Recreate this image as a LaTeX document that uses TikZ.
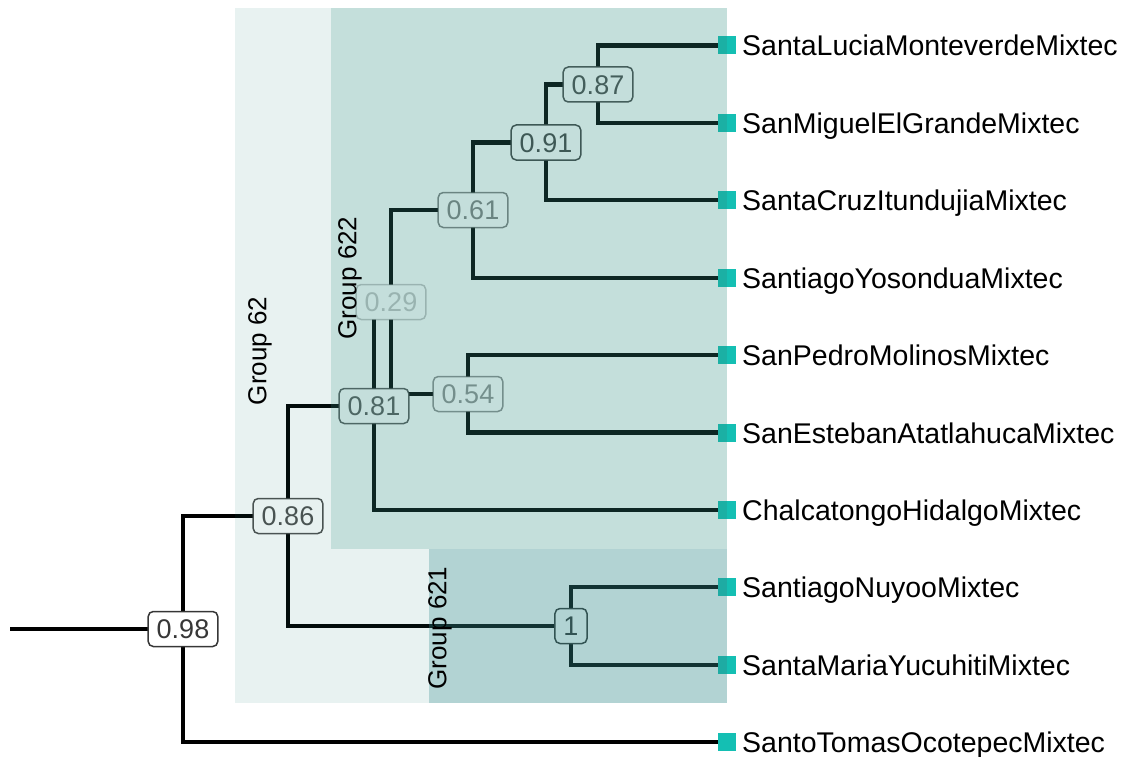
\documentclass[tikz,border=0pt]{standalone}
\usepackage{fontspec}
\setmainfont{Liberation Sans}
\definecolor{labgray}{HTML}{333333}
\definecolor{leafteal}{HTML}{14BFB3}
\definecolor{cg62}{RGB}{25,125,115}
\definecolor{cg622}{RGB}{57,147,136}
\definecolor{cg621}{RGB}{55,142,144}
\begin{document}
\begin{tikzpicture}[x=1pt,y=-1pt,
  edge/.style={line width=4.2pt, draw=black},
  bslab/.style={draw=labgray, fill=white, rounded corners=5pt, line width=1.5pt,
    text=labgray, font=\fontsize{27}{32}\selectfont, text height=19.5pt,
    text depth=0pt, inner xsep=8.5pt, inner ysep=7.75pt},
  leafsq/.style={fill=leafteal, minimum size=18pt, inner sep=0pt},
  leaflab/.style={anchor=base west, font=\fontsize{28.5}{34}\selectfont, inner sep=0pt},
  grplab/.style={rotate=90, font=\fontsize{26}{31}\selectfont, inner sep=0pt, text=black}
]
\useasboundingbox (0,0) rectangle (1124,757);

% internal node positions
\coordinate (r0) at (10,629);
\coordinate (n098) at (183,629);
\coordinate (n086) at (288,516);
\coordinate (n081) at (374,406);
\coordinate (n029) at (391,302);
\coordinate (n061) at (473,210);
\coordinate (n091) at (546,142.5);
\coordinate (n087) at (598,84.5);
\coordinate (n054) at (468,394);
\coordinate (n1) at (571,626);

% leaf tips
\coordinate (t1) at (718,45.5);
\coordinate (t2) at (718,122.9);
\coordinate (t3) at (718,200.3);
\coordinate (t4) at (718,277.7);
\coordinate (t5) at (718,355.1);
\coordinate (t6) at (718,432.5);
\coordinate (t7) at (718,509.9);
\coordinate (t8) at (718,587.3);
\coordinate (t9) at (718,664.7);
\coordinate (t10) at (718,742.1);

% edges
\draw[edge] (r0) -- (n098);
\draw[edge] (n098) |- (n086);
\draw[edge] (n098) |- (t10);
\draw[edge] (n086) |- (n081);
\draw[edge] (n086) |- (n1);
\draw[edge] (n081) |- (n029);
\draw[edge] (n081) |- (t7);
\draw[edge] (n029) |- (n061);
\draw[edge] (n029) |- (n054);
\draw[edge] (n061) |- (n091);
\draw[edge] (n061) |- (t4);
\draw[edge] (n091) |- (n087);
\draw[edge] (n091) |- (t3);
\draw[edge] (n087) |- (t1);
\draw[edge] (n087) |- (t2);
\draw[edge] (n054) |- (t5);
\draw[edge] (n054) |- (t6);
\draw[edge] (n1) |- (t8);
\draw[edge] (n1) |- (t9);

% support labels
\node[bslab, draw opacity=0.29, text opacity=0.29] (l029) at (n029) {0.29};
\node[bslab, draw opacity=0.61, text opacity=0.61] (l061) at (n061) {0.61};
\node[bslab, draw opacity=0.54, text opacity=0.54] (l054) at (n054) {0.54};
\node[bslab, draw opacity=0.91, text opacity=0.91] (l091) at (n091) {0.91};
\node[bslab, draw opacity=0.87, text opacity=0.87] (l087) at (n087) {0.87};
\node[bslab, draw opacity=0.81, text opacity=0.81] (l081) at (n081) {0.81};
\node[bslab, draw opacity=0.86, text opacity=0.86] (l086) at (n086) {0.86};
\node[bslab, draw opacity=1, text opacity=1] (l1) at (n1) {1};
\node[bslab, draw opacity=0.98, text opacity=0.98] (l098) at (n098) {0.98};

% leaf squares
\node[leafsq] (s1) at (727,45.5) {};
\node[leafsq] (s2) at (727,122.9) {};
\node[leafsq] (s3) at (727,200.3) {};
\node[leafsq] (s4) at (727,277.7) {};
\node[leafsq] (s5) at (727,355.1) {};
\node[leafsq] (s6) at (727,432.5) {};
\node[leafsq] (s7) at (727,509.9) {};
\node[leafsq] (s8) at (727,587.3) {};
\node[leafsq] (s9) at (727,664.7) {};
\node[leafsq] (s10) at (727,742.1) {};

% group overlays
\fill[cg62, fill opacity=0.1] (235,8) rectangle (727,703);
\fill[cg622, fill opacity=0.2] (331,8) rectangle (727,549);
\fill[cg621, fill opacity=0.3] (429,549) rectangle (727,703);

% group labels
\node[grplab] (g62) at (260,351) {Group 62};
\node[grplab] (g622) at (350,278) {Group 622};
\node[grplab] (g621) at (440,628) {Group 621};

% leaf labels
\node[leaflab] (L1) at (742,56) {SantaLuciaMonteverdeMixtec};
\node[leaflab] (L2) at (742,133.4) {SanMiguelElGrandeMixtec};
\node[leaflab] (L3) at (742,210.8) {SantaCruzItundujiaMixtec};
\node[leaflab] (L4) at (742,288.2) {SantiagoYosonduaMixtec};
\node[leaflab] (L5) at (742,365.6) {SanPedroMolinosMixtec};
\node[leaflab] (L6) at (742,443) {SanEstebanAtatlahucaMixtec};
\node[leaflab] (L7) at (742,520.4) {ChalcatongoHidalgoMixtec};
\node[leaflab] (L8) at (742,597.8) {SantiagoNuyooMixtec};
\node[leaflab] (L9) at (742,675.2) {SantaMariaYucuhitiMixtec};
\node[leaflab] (L10) at (742,752.6) {SantoTomasOcotepecMixtec};
\end{tikzpicture}
\end{document}
